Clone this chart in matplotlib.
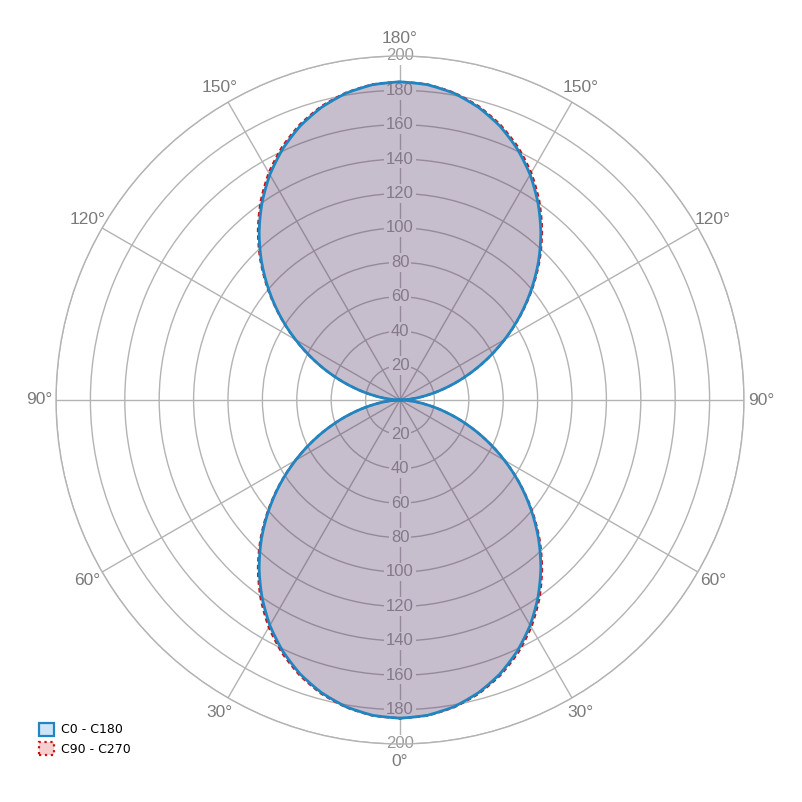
import numpy as np
import matplotlib
matplotlib.use("Agg")
import matplotlib.pyplot as plt
from matplotlib.patches import Patch

# gamma angles (deg) and luminous intensity (cd/klm)
gamma = list(range(0, 181, 5))
c0_c180 = [185.0, 184.0, 181.1, 176.2, 169.6, 161.2, 151.3, 139.9, 127.4, 113.9,
           99.6, 85.0, 70.1, 55.4, 41.2, 27.9, 15.9, 6.1, 0.0,
           6.1, 15.9, 27.9, 41.2, 55.4, 70.1, 85.0, 99.6, 113.9, 127.4,
           139.9, 151.3, 161.2, 169.6, 176.2, 181.1, 184.0, 185.0]
c90_c270 = [185.0, 184.2, 181.4, 176.8, 170.4, 162.3, 152.6, 141.2, 128.5, 114.8,
            100.3, 85.4, 70.3, 55.5, 41.2, 27.9, 15.9, 6.1, 0.0,
            6.1, 15.9, 27.9, 41.2, 55.5, 70.3, 85.4, 100.3, 114.8, 128.5,
            141.2, 152.6, 162.3, 170.4, 176.8, 181.4, 184.2, 185.0]
r_ticks = [20, 40, 60, 80, 100, 120, 140, 160, 180, 200]
angle_ticks = [0, 30, 60, 90, 120, 150, 180]

FONT = ["Liberation Sans", "DejaVu Sans"]

def closed(vals):
    # one half plotted at +gamma, the other mirrored at -gamma
    th = np.deg2rad(np.array(gamma + [360 - g for g in gamma[::-1]]))
    r = np.array(vals + vals[::-1])
    return th, r

fig = plt.figure(figsize=(8.02, 8.02), dpi=100)
ax = fig.add_axes([56 / 802, 58 / 802, 688 / 802, 688 / 802], projection="polar")
ax.set_theta_zero_location("S")
ax.set_ylim(0, 200)
ax.set_axisbelow(True)
ax.set_yticks(r_ticks)
ax.set_yticklabels([])
ax.set_xticks(np.deg2rad(np.arange(0, 360, 30)))
ax.set_xticklabels([])
ax.grid(True, color="#b3b3b3", linewidth=1.0)
ax.spines["polar"].set_color("#b3b3b3")
ax.spines["polar"].set_linewidth(1.0)

# radial labels on the vertical axis, up and down
for r in r_ticks:
    for th in (0, np.pi):
        ax.text(th, r, str(r), ha="center", va="center", fontsize=12,
                family=FONT, color="#999999", zorder=1,
                bbox=dict(boxstyle="square,pad=0.1", fc="white", ec="none"))

# angle labels outside the rings, both sides
for a in angle_ticks:
    sides = [a] if a in (0, 180) else [a, 360 - a]
    for s in sides:
        ax.text(np.deg2rad(s), 210, f"{a}°", ha="center", va="center",
                fontsize=12.5, family=FONT, color="#7a7a7a", clip_on=False)

th1, r1 = closed(c90_c270)
th0, r0 = closed(c0_c180)
artists = []
artists += ax.fill(th1, r1, color="#cc0000", alpha=0.19, lw=0, zorder=2)
artists += ax.fill(th0, r0, color="#0070c8", alpha=0.19, lw=0, zorder=2)
artists += ax.plot(th1, r1, color="#cc1010", lw=1.6, ls=(0, (2, 1.5)), zorder=3)
artists += ax.plot(th0, r0, color="#1f86c2", lw=2, zorder=4)
for art in artists:
    # let the polar transform draw smooth curves between readings
    art.get_path()._interpolation_steps = 12

handles = [
    Patch(facecolor="#cfe4f5", edgecolor="#1f86c2", lw=1.6, label="C0 - C180"),
    Patch(facecolor="#f5cfcf", edgecolor="#cc1010", lw=1.6, ls=":", label="C90 - C270"),
]
fig.legend(handles=handles, loc="upper left", bbox_to_anchor=(0.034, 0.113),
           frameon=False, fontsize=9, handlelength=1.25, handleheight=1.25,
           handletextpad=0.55, labelspacing=0.45)

fig.savefig("out.png", dpi=100)
plt.close()
